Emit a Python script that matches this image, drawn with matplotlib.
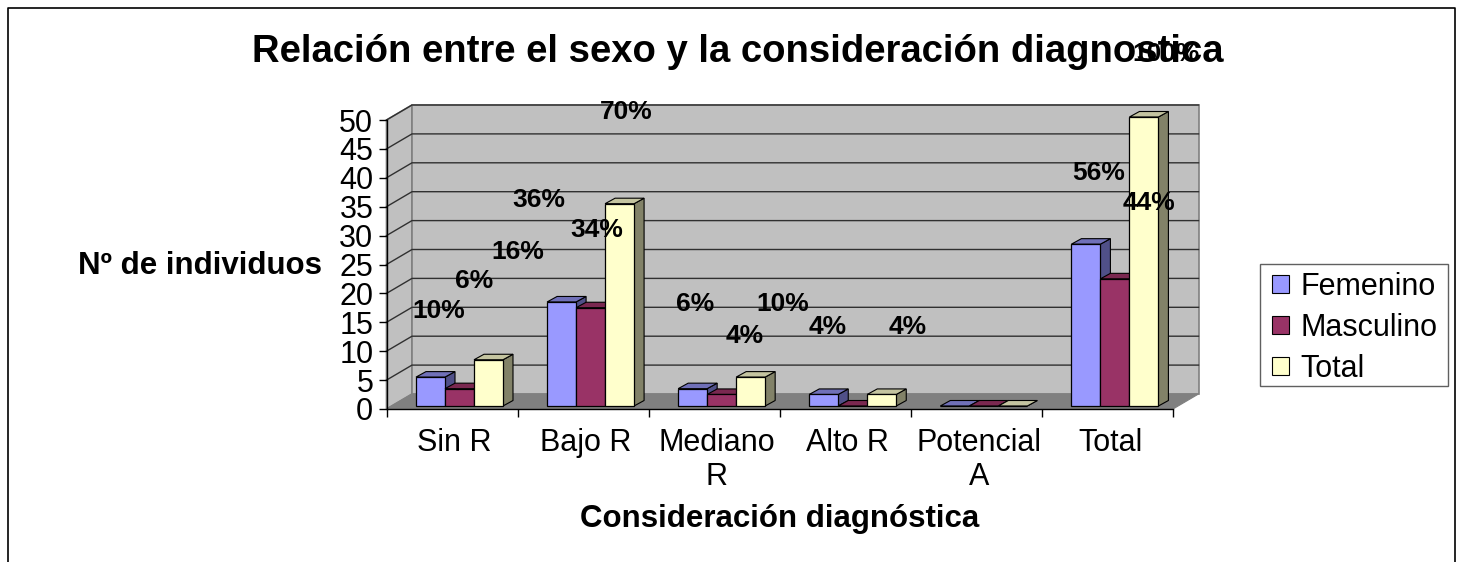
import matplotlib
matplotlib.use('Agg')
import matplotlib.pyplot as plt
from matplotlib.patches import Patch, Polygon, Rectangle

plt.rcParams['font.family'] = ['Liberation Sans', 'DejaVu Sans']

# Datos
categorias = ['Sin R', 'Bajo R', 'Mediano\nR', 'Alto R', 'Potencial\nA', 'Total']
femenino = [5, 18, 3, 2, 0, 28]
masculino = [3, 17, 2, 0, 0, 22]
total = [8, 35, 5, 2, 0, 50]
y_ticks = list(range(0, 55, 5))
etiquetas = ['10%', '6%', '16%', '36%', '34%', '70%', '6%', '4%', '10%', '4%', '4%', '56%', '44%', '100%']

# the percent labels are scattered in the original, pixel centres of each one
pos_etiquetas = [(439, 309), (474, 279), (518, 250), (539, 198), (597, 228), (626, 110), (695, 302),
                 (745, 334), (783, 302), (828, 325), (908, 325), (1099, 171), (1149, 201), (1166, 52)]

W, H = 1460, 562
L, R, B, T = 386.5, 1173, 409, 120  # front plane of the plot in pixels


def fx(x):
    return x / W


def fy(y):
    return 1 - y / H


fig = plt.figure(figsize=(W / 100, H / 100), dpi=100, facecolor='white')

# page border, open at the bottom
fig.add_artist(plt.Line2D([fx(8), fx(8), fx(1454.5), fx(1454.5)], [0, fy(8), fy(8), 0], color='black', lw=1.2))

ax = fig.add_axes([fx(L), fy(B), (R - L) / W, (B - T) / H])
ax.set_xlim(0, 6)
ax.set_ylim(0, 50)
ax.patch.set_visible(False)
for s in ['top', 'right']:
    ax.spines[s].set_visible(False)
for s in ['left', 'bottom']:
    ax.spines[s].set_linewidth(1.0)
    ax.spines[s].set_zorder(1)

ux = (R - L) / 6      # pixels per category
uy = (B - T) / 50     # pixels per value
dx = 25.5 / ux        # depth of the box
dy = 15 / uy

# walls and floor
ax.add_patch(Polygon([(0, 0), (dx, dy), (dx, 50 + dy), (0, 50)], fc='#c0c0c0', ec='#808080', lw=1.2, clip_on=False, zorder=0))
ax.add_patch(Polygon([(dx, dy), (6 + dx, dy), (6 + dx, 50 + dy), (dx, 50 + dy)], fc='#c0c0c0', ec='#808080', lw=1.2, clip_on=False, zorder=0))
ax.add_patch(Polygon([(0, 0), (6, 0), (6 + dx, dy), (dx, dy)], fc='#808080', ec='#808080', lw=0.8, clip_on=False, zorder=0))

for v in y_ticks[1:]:
    grid_col = '#303030'
    ax.plot([0, dx, 6 + dx], [v, v + dy, v + dy], color=grid_col, lw=1.0, clip_on=False, zorder=0.5)

# axes ticks
ax.set_yticks(y_ticks)
ax.set_xticks(range(7))
ax.set_xticklabels([])
ax.set_xticks([i + 0.52 for i in range(6)], minor=True)
ax.set_xticklabels(categorias, minor=True, fontsize=22, linespacing=1.2, va='top')
ax.tick_params(axis='x', which='major', length=6, width=1)
ax.tick_params(axis='x', which='minor', length=0, pad=13.5)
ax.tick_params(axis='y', length=6, width=1, labelsize=22, pad=3.5)

# barras
series = [('Femenino', femenino, '#9999ff', '#7070b8', '#505088'),
          ('Masculino', masculino, '#993366', '#7a2850', '#70254a'),
          ('Total', total, '#ffffcc', '#c4c4a0', '#828268')]
ancho = 29 / ux
inicio = 29.5 / ux
base = 3 / uy
bx = 10 / ux
by = 5.5 / uy
z = 2
for i in range(len(categorias)):
    for j, (nombre, vals, col, col_top, col_side) in enumerate(series):
        x0 = i + inicio + j * ancho
        x1 = x0 + ancho
        top = base + vals[i]
        ax.add_patch(Polygon([(x1, base), (x1 + bx, base + by), (x1 + bx, top + by), (x1, top)], fc=col_side, ec='black', lw=0.8, clip_on=False, zorder=z))
        ax.add_patch(Polygon([(x0, top), (x1, top), (x1 + bx, top + by), (x0 + bx, top + by)], fc=col_top, ec='black', lw=0.8, clip_on=False, zorder=z))
        ax.bar(x0, vals[i], width=ancho, bottom=base, align='edge', color=col, edgecolor='black', lw=0.9, clip_on=False, zorder=z)
        z += 1

# textos
fig.text(fx(738), fy(52), 'Relación entre el sexo y la consideración diagnostica', fontsize=27.5, fontweight='bold', ha='center', va='center', zorder=20)
fig.text(fx(200), fy(266), 'Nº de individuos', fontsize=22.5, fontweight='bold', ha='center', va='center')
fig.text(fx(780), fy(519), 'Consideración diagnóstica', fontsize=22.5, fontweight='bold', ha='center', va='center')

for txt, (px, py) in zip(etiquetas, pos_etiquetas):
    fig.text(fx(px), fy(py + 2), txt, fontsize=19, fontweight='bold', ha='center', va='center', zorder=30)

# legend frame is drawn apart, the row height of the font makes the built in one too tall
fig.add_artist(Rectangle((fx(1260), fy(386)), 188 / W, 122 / H, transform=fig.transFigure, fc='white', ec='#606060', lw=1.0))
handles = [Patch(facecolor=s[2], edgecolor='black', lw=0.8, label=s[0]) for s in series]
leg = fig.legend(handles=handles, loc='upper left', bbox_to_anchor=(fx(1264), fy(264)), bbox_transform=fig.transFigure,
                 fontsize=22, frameon=False, borderaxespad=0, borderpad=0.25,
                 handlelength=0.58, handleheight=0.55, handletextpad=0.35, labelspacing=0.36)

fig.savefig('out.png', dpi=100)
